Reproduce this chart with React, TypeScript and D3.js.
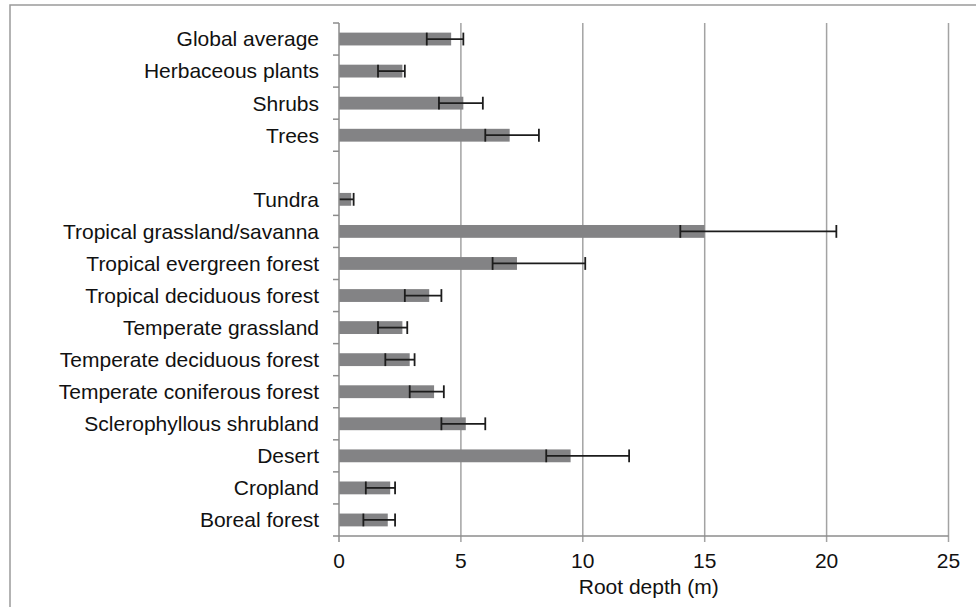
import React from "react";
import * as d3 from "d3";

// Mean rooting depth (m) by vegetation group, with error bar bounds
const categories = [
  "Global average",
  "Herbaceous plants",
  "Shrubs",
  "Trees",
  "",
  "Tundra",
  "Tropical grassland/savanna",
  "Tropical evergreen forest",
  "Tropical deciduous forest",
  "Temperate grassland",
  "Temperate deciduous forest",
  "Temperate coniferous forest",
  "Sclerophyllous shrubland",
  "Desert",
  "Cropland",
  "Boreal forest",
];
const meanDepth = [4.6, 2.6, 5.1, 7.0, NaN, 0.5, 15.0, 7.3, 3.7, 2.6, 2.9, 3.9, 5.2, 9.5, 2.1, 2.0];
const lowerBound = [3.6, 1.6, 4.1, 6.0, NaN, 0, 14.0, 6.3, 2.7, 1.6, 1.9, 2.9, 4.2, 8.5, 1.1, 1.0];
const upperBound = [5.1, 2.7, 5.9, 8.2, NaN, 0.6, 20.4, 10.1, 4.2, 2.8, 3.1, 4.3, 6.0, 11.9, 2.3, 2.3];
const xTicks = [0, 5, 10, 15, 20, 25];
const axisTitle = "Root depth (m)";

const W = 976;
const H = 607;
const margin = { left: 339, right: 27.5, top: 23, bottom: 71 };
const FONT = "'Liberation Sans', Arial, sans-serif";
const FS = 21;

export default function App() {
  const x = d3
    .scaleLinear()
    .domain([0, 25])
    .range([margin.left, W - margin.right]);
  const y = d3
    .scaleBand<string>()
    .domain(categories.map((c, i) => String(i)))
    .range([margin.top, H - margin.bottom])
    .paddingInner(0.6)
    .paddingOuter(0.3);
  const band = y.step();
  const bh = y.bandwidth();
  const yTop = margin.top;
  const yBot = H - margin.bottom;

  return (
    <svg
      width={W}
      height={H}
      style={{ position: "absolute", left: 0, top: 0, background: "#fff" }}
      fontFamily={FONT}
    >
      {/* outer frame */}
      <rect x={10} y={5} width={W + 20} height={H + 20} fill="none" stroke="#9a9a9a" strokeWidth={1.5} />

      {/* vertical gridlines with ticks below the axis */}
      {xTicks.slice(1).map((t) => (
        <line key={t} x1={x(t)} x2={x(t)} y1={yTop} y2={yBot + 6} stroke="#a3a3a3" strokeWidth={1.5} />
      ))}

      {/* bars */}
      {categories.map((c, i) =>
        isNaN(meanDepth[i]) ? null : (
          <rect
            key={"b" + i}
            x={x(0)}
            y={y(String(i))!}
            width={x(meanDepth[i]) - x(0)}
            height={bh}
            fill="#838385"
          />
        )
      )}

      {/* error bars */}
      {categories.map((c, i) => {
        if (isNaN(meanDepth[i])) return null;
        const cy = y(String(i))! + bh / 2;
        const x0 = x(lowerBound[i]);
        const x1 = x(upperBound[i]);
        const cap = bh / 2;
        return (
          <g key={"e" + i} stroke="#1c1c1c" strokeWidth={1.8}>
            <line x1={x0} x2={x1} y1={cy} y2={cy} />
            {lowerBound[i] > 0 && <line x1={x0} x2={x0} y1={cy - cap} y2={cy + cap} />}
            <line x1={x1} x2={x1} y1={cy - cap} y2={cy + cap} />
          </g>
        );
      })}

      {/* category axis */}
      <line x1={x(0)} x2={x(0)} y1={yTop} y2={yBot + 6} stroke="#8c8c8c" strokeWidth={1.5} />
      {d3.range(categories.length + 1).map((k) => (
        <line
          key={"t" + k}
          x1={x(0) - 6}
          x2={x(0)}
          y1={yTop + k * band}
          y2={yTop + k * band}
          stroke="#8c8c8c"
          strokeWidth={1.5}
        />
      ))}
      {categories.map((c, i) => (
        <text
          key={"l" + i}
          x={319}
          y={yTop + (i + 0.5) * band + 7.4}
          textAnchor="end"
          fontSize={FS}
          fill="#111"
        >
          {c}
        </text>
      ))}

      {/* value axis */}
      <line x1={x(0)} x2={x(25)} y1={yBot} y2={yBot} stroke="#8c8c8c" strokeWidth={1.5} />
      {xTicks.map((t) => (
        <text key={"x" + t} x={x(t)} y={568} textAnchor="middle" fontSize={FS} fill="#111">
          {t}
        </text>
      ))}
      <text x={(x(0) + x(25)) / 2 + 5} y={594} textAnchor="middle" fontSize={FS} fill="#111">
        {axisTitle}
      </text>
    </svg>
  );
}
